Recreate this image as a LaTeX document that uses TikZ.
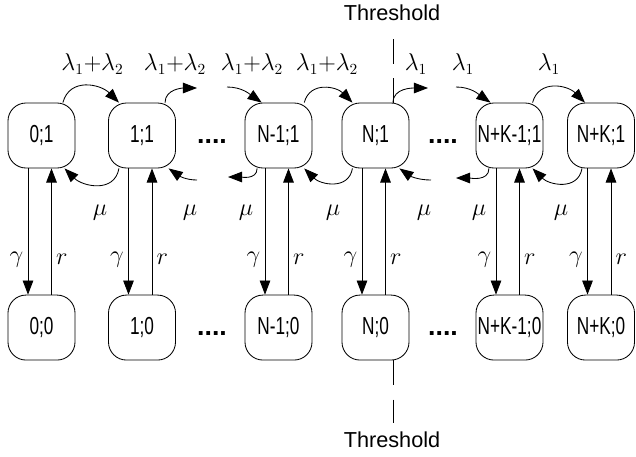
\documentclass[tikz,border=0pt]{standalone}
\usepackage{amsmath,amssymb}
\usepackage{fontspec}
\setmainfont{Liberation Sans}
\newfontfamily\statefont[FakeStretch=0.7]{Liberation Sans}
\usetikzlibrary{calc,positioning,arrows.meta}

\tikzset{
  cell/.style={draw, rounded corners=0.45cm, minimum width=1.675cm,
    minimum height=1.625cm, inner sep=0pt,
    font=\statefont\fontsize{17.5}{20}\selectfont},
  rate/.style={font=\fontsize{16}{18}\selectfont, inner sep=1pt},
  dots/.style={anchor=base, font=\fontsize{19}{20}\selectfont\bfseries},
  thr/.style={dash pattern=on 0.625cm off 0.35cm},
  thlabel/.style={font=\fontsize{15.4}{18}\selectfont}
}

\begin{document}
\begin{tikzpicture}[>={Triangle[length=10pt,width=7.5pt]}, on grid,
    line width=0.6pt, x=0.025cm, y=0.025cm, node distance=4.8cm]
    \useasboundingbox (0,0) rectangle (636,-456);

    % busy states
    \node[cell] (t0) at (41.5,-135.5) {0;1};
    \node[cell] (t1) at (142,-135.5) {1;1};
    \node[cell] (tn1) at (278.5,-135.5) {N-1;1};
    \node[cell] (tn) at (375.5,-135.5) {N;1};
    \node[cell] (tk1) at (509.5,-135.5) {N+K-1;1};
    \node[cell] (tk) at (601,-135.5) {N+K;1};

    % idle states
    \node[cell, below=of t0] (b0) {0;0};
    \node[cell, below=of t1] (b1) {1;0};
    \node[cell, below=of tn1] (bn1) {N-1;0};
    \node[cell, below=of tn] (bn) {N;0};
    \node[cell, below=of tk1] (bk1) {N+K-1;0};
    \node[cell, below=of tk] (bk) {N+K;0};

    \node[dots] (e1) at (212,-143) {....};
    \node[dots] (e2) at (443,-143) {....};
    \node[dots] (e3) at (212,-335) {....};
    \node[dots] (e4) at (443,-335) {....};

    % loose ends of the chain
    \coordinate (o1) at (197,-88);
    \coordinate (i1) at (227,-87);
    \coordinate (o2) at (428,-88);
    \coordinate (i2) at (456,-87);
    \coordinate (i3) at (197,-180);
    \coordinate (o3) at (228,-177);
    \coordinate (i4) at (431,-180);
    \coordinate (o4) at (456,-178);

    % arrivals
    \path[->]
      (t0.57) edge[out=75, in=135, looseness=1.2] (t1.125)
      (t1.55) edge[out=90, in=180] (o1)
      (i1) edge[out=0, in=145] (tn1.117)
      (tn1.52) edge[out=75, in=135, looseness=1.2] (tn.125)
      (tn.62) edge[out=90, in=180] (o2)
      (i2) edge[out=0, in=145] (tk1.120)
      (tk1.55) edge[out=75, in=135, looseness=1.2] (tk.116);

    % services
    \path[->]
      (t1.-125) edge[out=-100, in=-45, looseness=1.2] (t0.-55)
      (i3) edge[out=180, in=-35] (t1.-51)
      (tn1.-123) edge[out=-90, in=0] (o3)
      (tn.-125) edge[out=-100, in=-45, looseness=1.2] (tn1.-52)
      (i4) edge[out=180, in=-35] (tn.-54)
      (tk1.-122) edge[out=-90, in=0] (o4)
      (tk.-120) edge[out=-100, in=-45, looseness=1.2] (tk1.-55);

    \node[rate] (l1) at (92.5,-64) {$\lambda_1{+}\lambda_2$};
    \node[rate] (l2) at (175,-64) {$\lambda_1{+}\lambda_2$};
    \node[rate] (l3) at (252,-64) {$\lambda_1{+}\lambda_2$};
    \node[rate] (l4) at (327,-64) {$\lambda_1{+}\lambda_2$};
    \node[rate] (l5) at (416,-64) {$\lambda_1$};
    \node[rate] (l6) at (463,-64) {$\lambda_1$};
    \node[rate] (l7) at (549,-64) {$\lambda_1$};

    \foreach \x [count=\i] in {100,190,246,333,424,479,561}
      \node[rate] (m\i) at (\x,-213) {$\mu$};

    % breakdown and repair
    \foreach \c in {0,1,n1,n,k1,k} {
      \draw[->] ([xshift=-0.3375cm]t\c.south) -- node[rate, pos=0.72, left=2pt] {$\gamma$}
        ([xshift=-0.3375cm]b\c.north);
      \draw[->] ([xshift=0.25cm]b\c.north) -- node[rate, pos=0.28, right=2pt] {$r$}
        ([xshift=0.25cm]t\c.south);
    }

    % threshold
    \node[thlabel] (th1) at (392,-12.5) {Threshold};
    \node[thlabel] (th2) at (392,-440) {Threshold};
    \coordinate (d1) at (393,-39);
    \coordinate (d2) at (393,-423);
    \draw[thr] (d1) -- (d1 |- tn.north);
    \draw[thr] (d1 |- bn.south) -- (d2);
\end{tikzpicture}
\end{document}
